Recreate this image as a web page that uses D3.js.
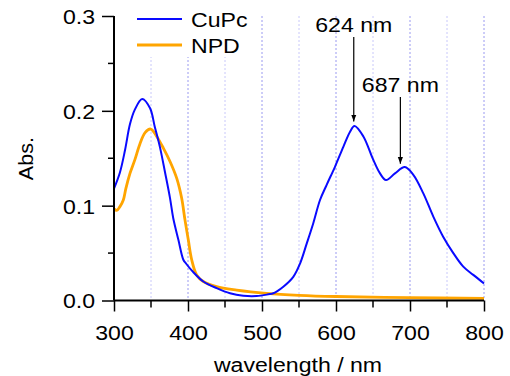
<!DOCTYPE html>
<html><head><meta charset="utf-8">
<script src="https://cdn.jsdelivr.net/npm/d3@7"></script>
<style>body{margin:0;background:#fff}svg{display:block}text{font-family:"Liberation Sans",Arial,sans-serif;fill:#000}</style>
</head><body><svg id="c" width="510" height="376"></svg>
<script>
const cupcWl = [300,308,315,321.6,328,338,348.6,355,362,369,375.7,380,387,393.7,397.3,407,420.7,438.7,456.8,474.7,492.8,508.5,515.3,528.8,542.3,551.4,560.4,569.3,578.4,587.4,598.6,609.9,619,625,637,650,659.5,667.6,679.7,693,704.5,718,731.5,745,758.5,772,785.5,800];
const cupcAbs = [0.118,0.135,0.159,0.186,0.201,0.2125,0.203,0.1835,0.162,0.135,0.108,0.087,0.064,0.043,0.039,0.030,0.020,0.013,0.0076,0.005,0.0047,0.0065,0.0076,0.0146,0.025,0.039,0.060,0.0815,0.106,0.122,0.141,0.162,0.178,0.184,0.173,0.149,0.134,0.127,0.134,0.1407,0.1325,0.113,0.0885,0.067,0.050,0.0357,0.027,0.018];
const npdWl = [300,303.6,308,312.6,316,321.6,328,335,342,349.6,357.7,366.7,375.7,384.7,391.4,395.9,400.4,405,411.7,420.7,438.7,465.8,506,550,600,700,800];
const npdAbs = [0.0966,0.095,0.099,0.106,0.118,0.134,0.148,0.165,0.177,0.1808,0.173,0.1607,0.1466,0.129,0.108,0.085,0.064,0.043,0.027,0.020,0.0146,0.011,0.0076,0.0055,0.0042,0.003,0.0022];
const xTicks = [300,400,500,600,700,800];
const yTicks = [0.0,0.1,0.2,0.3];
const seriesNames = ["CuPc","NPD"];
const seriesColors = ["#0a0aff","#ffa500"];
const peaks = [{wl:624, abs:0.184, label:"624 nm"},{wl:687, abs:0.1405, label:"687 nm"}];

const FS = 21, SX = 1.1;
const svg = d3.select("#c");
const x = d3.scaleLinear().domain([300,800]).range([114,484]);
const y = d3.scaleLinear().domain([0,0.3]).range([300.5,16]);

function label(px, py, txt, anchor, rot, sx){
  svg.append("text")
    .attr("transform",`translate(${px},${py})${rot?` rotate(${rot})`:""} scale(${sx||SX},1)`)
    .attr("text-anchor",anchor).attr("font-size",FS).text(txt);
}

// grid
const gridVals = d3.range(350,801,50);
svg.append("g").selectAll("line").data(gridVals).join("line")
  .attr("x1",d=>x(d)).attr("x2",d=>x(d)).attr("y1",y(0.3)).attr("y2",y(0))
  .attr("stroke",d=>d%100===0?"#9a9af0":"#c8c8fa").attr("stroke-width",1)
  .attr("stroke-dasharray","2,2");

// legend background
svg.append("rect").attr("x",116).attr("y",0).attr("width",132).attr("height",57).attr("fill","#fff");

// lines
const line = d3.line().x(d=>x(d[0])).y(d=>y(d[1])).curve(d3.curveCatmullRom.alpha(0.5));
svg.append("path").datum(npdWl.map((w,i)=>[w,npdAbs[i]]))
  .attr("d",line).attr("fill","none").attr("stroke",seriesColors[1]).attr("stroke-width",2.8);
svg.append("path").datum(cupcWl.map((w,i)=>[w,cupcAbs[i]]))
  .attr("d",line).attr("fill","none").attr("stroke",seriesColors[0]).attr("stroke-width",2);

// axes
const xAxis = d3.axisBottom(x).tickValues(xTicks).tickSize(11).tickFormat(d3.format("d"));
const gx = svg.append("g").attr("transform",`translate(0,${y(0)})`).call(xAxis);
gx.select(".domain").attr("stroke-width",2).attr("d",`M${x(300)},0H${x(800)}`);
gx.selectAll(".tick line").attr("stroke-width",1.5);
gx.selectAll(".tick text").attr("font-size",FS).attr("font-family","Liberation Sans, Arial, sans-serif")
  .attr("y",39.5).attr("dy",0).attr("transform",`scale(${SX},1)`);
gx.append("g").selectAll("line").data(d3.range(350,800,100)).join("line")
  .attr("x1",d=>x(d)).attr("x2",d=>x(d)).attr("y1",0).attr("y2",7).attr("stroke","#000").attr("stroke-width",1.5);

const yAxis = d3.axisLeft(y).tickValues(yTicks).tickSize(12).tickFormat(d3.format(".1f"));
const gy = svg.append("g").attr("transform",`translate(${x(300)},0)`).call(yAxis);
gy.select(".domain").attr("stroke-width",2).attr("d",`M0,${y(0.3)}V${y(0)}`);
gy.selectAll(".tick line").attr("stroke-width",1.5);
gy.selectAll(".tick text").attr("font-size",FS).attr("font-family","Liberation Sans, Arial, sans-serif")
  .attr("x",-19/SX).attr("dy","0.35em").attr("transform",`scale(${SX},1)`);
gy.append("g").selectAll("line").data([0.05,0.15,0.25]).join("line")
  .attr("x1",-6).attr("x2",0).attr("y1",d=>y(d)).attr("y2",d=>y(d)).attr("stroke","#000").attr("stroke-width",1.5);

// axis titles
label(298, 371.5, "wavelength / nm", "middle");
label(33, 158.5, "Abs.", "middle", -90, 1.03);

// legend
seriesNames.forEach((n,i)=>{
  const yy = 19 + i*26;
  svg.append("line").attr("x1",137).attr("x2",182).attr("y1",yy).attr("y2",yy)
    .attr("stroke",seriesColors[i]).attr("stroke-width",i===1?2.8:2);
  label(191, yy+7.5, n, "start");
});

// annotations
svg.append("defs").append("marker").attr("id","ah").attr("viewBox","0 0 10 10")
  .attr("refX",10).attr("refY",5).attr("markerWidth",7).attr("markerHeight",7).attr("markerUnits","userSpaceOnUse")
  .attr("orient","auto").append("path").attr("d","M0,1.2L10,5L0,8.8Z").attr("fill","#000");
const annTop = [37,97];
const labY = [32,92];
const gap = [4.5,3.5];
peaks.forEach((p,i)=>{
  svg.append("line").attr("x1",x(p.wl)).attr("x2",x(p.wl)).attr("y1",annTop[i]).attr("y2",y(p.abs)-gap[i])
    .attr("stroke","#000").attr("stroke-width",1.2).attr("marker-end","url(#ah)");
  label(x(p.wl), labY[i], p.label, "middle");
});
</script></body></html>
